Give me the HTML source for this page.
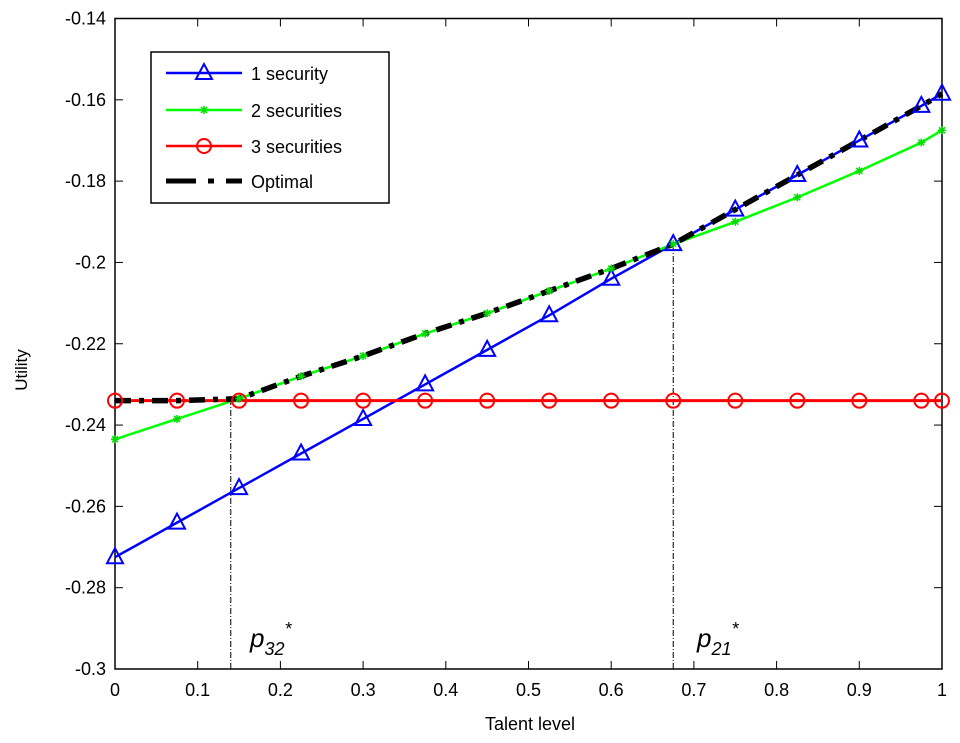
<!DOCTYPE html>
<html><head><meta charset="utf-8"><style>
body{margin:0;background:#fff;}
svg text{font-family:"Liberation Sans",sans-serif;}
</style></head><body>
<svg id="c" width="960" height="738"></svg>
<script>
const xs=[0,0.075,0.15,0.225,0.3,0.375,0.45,0.525,0.6,0.675,0.75,0.825,0.9,0.975,1];
const s1=[-0.2725,-0.264,-0.2555,-0.247,-0.2385,-0.23,-0.2215,-0.213,-0.204,-0.1955,-0.187,-0.1785,-0.17,-0.1615,-0.1585];
const s2=[-0.2435,-0.2385,-0.2335,-0.228,-0.223,-0.2175,-0.2125,-0.207,-0.2015,-0.1955,-0.19,-0.184,-0.1775,-0.1705,-0.1675];
const s3=[-0.234,-0.234,-0.234,-0.234,-0.234,-0.234,-0.234,-0.234,-0.234,-0.234,-0.234,-0.234,-0.234,-0.234,-0.234];
const xTicks=[0,0.1,0.2,0.3,0.4,0.5,0.6,0.7,0.8,0.9,1];
const yTicks=[-0.14,-0.16,-0.18,-0.2,-0.22,-0.24,-0.26,-0.28,-0.3];
const thresholds=[0.14,0.675];
const L=115,R=942,T=18.5,B=669;
const X=v=>L+(R-L)*v, Y=v=>T+(B-T)*(-0.14-v)/0.16;
const svg=document.getElementById('c');const NS='http://www.w3.org/2000/svg';
function el(t,a,p){const e=document.createElementNS(NS,t);for(const k in a)e.setAttribute(k,a[k]);(p||svg).appendChild(e);return e;}
el('rect',{x:L,y:T,width:R-L,height:B-T,fill:'#fff',stroke:'#000','stroke-width':1.5});
xTicks.forEach(t=>{el('line',{x1:X(t),x2:X(t),y1:B,y2:B-8,stroke:'#000'});el('line',{x1:X(t),x2:X(t),y1:T,y2:T+8,stroke:'#000'});
const tx=el('text',{x:X(t),y:B+27,'text-anchor':'middle','font-size':18});tx.textContent=String(t);

});
yTicks.forEach(t=>{el('line',{x1:L,x2:L+8,y1:Y(t),y2:Y(t),stroke:'#000'});el('line',{x1:R,x2:R-8,y1:Y(t),y2:Y(t),stroke:'#000'});
const tx=el('text',{x:L-9,y:Y(t)+6,'text-anchor':'end','font-size':18});tx.textContent=String(t);

});
thresholds.forEach(t=>{const l=el('line',{x1:X(t),x2:X(t),y1:B,y2:Y(t===thresholds[0]?-0.234:-0.1955),stroke:'#000','stroke-width':1,'stroke-dasharray':'6,2,1,2'});

});
function pts(ys){return xs.map((x,i)=>X(x)+','+Y(ys[i])).join(' ');}
const g1=el('polyline',{points:pts(s1),fill:'none',stroke:'#0000ff','stroke-width':2.5});

const g2=el('polyline',{points:pts(s2),fill:'none',stroke:'#00ff00','stroke-width':2.5});

const g3=el('polyline',{points:pts(s3),fill:'none',stroke:'#ff0000','stroke-width':3});

const opt=xs.map((x,i)=>Math.max(s1[i],s2[i],s3[i]));
const go=el('polyline',{points:xs.map((x,i)=>X(x)+','+Y(opt[i])).join(' '),fill:'none',stroke:'#000','stroke-width':5.5,'stroke-dasharray':'16,8,5,8'});

xs.forEach((x,i)=>{
const a=X(x),b=Y(s1[i]);
const m=el('polygon',{points:`${a},${b-9} ${a-8},${b+6} ${a+8},${b+6}`,fill:'none',stroke:'#0000ff','stroke-width':2});

const c=el('circle',{cx:a,cy:Y(s3[i]),r:7,fill:'none',stroke:'#ff0000','stroke-width':2});

const gy=Y(s2[i]);
const s=el('path',{d:`M${a-3},${gy-3}L${a+3},${gy+3}M${a-3},${gy+3}L${a+3},${gy-3}M${a},${gy-4}L${a},${gy+4}M${a-4},${gy}L${a+4},${gy}`,stroke:'#00dd00','stroke-width':1.5});

});
</script>
<svg width="960" height="738" style="position:absolute;left:0;top:0">
<g>
<rect x="151" y="52" width="238" height="151" fill="#fff" stroke="#000" stroke-width="1.5"/>
<line x1="166" x2="242" y1="73" y2="73" stroke="#0000ff" stroke-width="2.5"/>
<polygon points="204,64 196,79 212,79" fill="none" stroke="#0000ff" stroke-width="2"/>
<text x="251" y="80" font-size="18">1 security</text>
<line x1="166" x2="242" y1="110" y2="110" stroke="#00ff00" stroke-width="2.5"/>
<path d="M201,107L207,113M201,113L207,107M204,106L204,114" stroke="#00dd00" stroke-width="1.5"/>
<text x="251" y="117" font-size="18">2 securities</text>
<line x1="166" x2="242" y1="146" y2="146" stroke="#ff0000" stroke-width="2.5"/>
<circle cx="204" cy="146" r="7" fill="none" stroke="#ff0000" stroke-width="2"/>
<text x="251" y="153" font-size="18">3 securities</text>
<line x1="166" x2="242" y1="181" y2="181" stroke="#000" stroke-width="5" stroke-dasharray="30,12,6,12"/>
<text x="251" y="188" font-size="18">Optimal</text>
</g>
<text x="250" y="647" font-size="26" font-style="italic" font-family="Liberation Serif,serif">p<tspan font-size="18" dy="8">32</tspan><tspan font-size="18" dy="-20">*</tspan></text>
<text x="697" y="647" font-size="26" font-style="italic" font-family="Liberation Serif,serif">p<tspan font-size="18" dy="8">21</tspan><tspan font-size="18" dy="-20">*</tspan></text>
<text x="530" y="730" font-size="18" text-anchor="middle">Talent level</text>
<text transform="translate(27,370) rotate(-90)" font-size="17" text-anchor="middle">Utility</text>
</svg>
</body></html>
